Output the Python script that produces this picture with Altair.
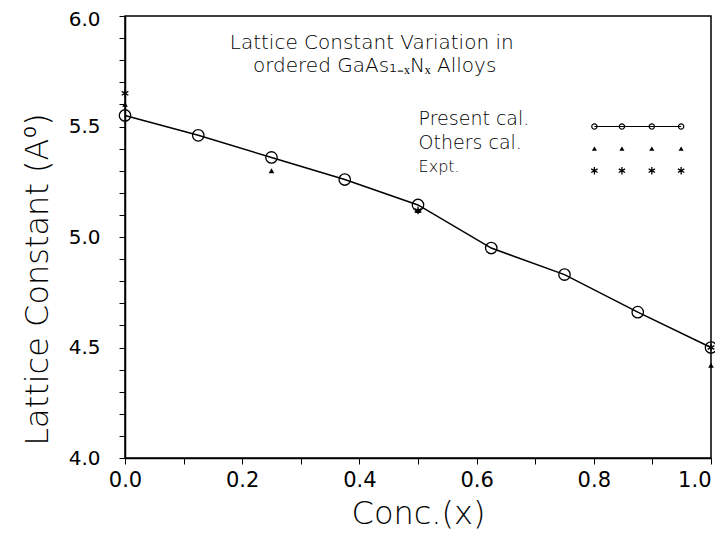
import altair as alt
import pandas as pd

# ---- data ----
conc = [0.0, 0.125, 0.25, 0.375, 0.5, 0.625, 0.75, 0.875, 1.0]
present = [5.55, 5.46, 5.36, 5.26, 5.145, 4.95, 4.83, 4.66, 4.50]

others_x = [0.0, 0.25, 0.5, 1.0]
others = [5.60, 5.30, 5.12, 4.42]

expt_x = [0.0, 0.5, 1.0]
expt = [5.65, 5.12, 4.50]

x_ticks = [0.0, 0.1, 0.2, 0.3, 0.4, 0.5, 0.6, 0.7, 0.8, 0.9, 1.0]
y_ticks = [4.0, 4.1, 4.2, 4.3, 4.4, 4.5, 4.6, 4.7, 4.8, 4.9, 5.0,
           5.1, 5.2, 5.3, 5.4, 5.5, 5.6, 5.7, 5.8, 5.9, 6.0]

title_lines = ["Lattice Constant Variation in", "ordered GaAs\u2081\u208b\u2093N\u2093 Alloys"]
title_x = [0.421, 0.426]
title_y = [5.879, 5.774]

legend_labels = ["Present cal.", "Others cal.", "Expt."]
legend_label_x = [0.501, 0.501, 0.501]
legend_label_y = [5.532, 5.425, 5.318]
legend_label_size = [19, 19, 16]
legend_sample_x = [0.801, 0.848, 0.899, 0.949]
legend_sample_y = [5.50, 5.40, 5.30]

FONT = "DejaVu Sans"
ASTERISK = "M0,-1L0,1M-0.866,-0.5L0.866,0.5M-0.866,0.5L0.866,-0.5"

xs = alt.Scale(domain=[0, 1], nice=False, zero=False)
ys = alt.Scale(domain=[4, 6], nice=False, zero=False)

x_axis = alt.Axis(
    values=x_ticks,
    labelExpr="abs(round(datum.value*10) % 2) == 0 ? format(datum.value, '.1f') : ''",
    labelAlign={"expr": "datum.value >= 0.99 ? 'right' : 'center'"},
    title="Conc.(x)", titleFontSize=32, titleFont=FONT, titleFontWeight=200,
    titleY=55, titleBaseline="middle",
    labelFontSize=21, labelFont=FONT, labelFontWeight="normal", labelPadding=5,
    tickSize=6, grid=False, domainColor="black", tickColor="black",
    labelColor="black", titleColor="black", domainWidth=1.5, labelFlush=False,
)
y_axis = alt.Axis(
    values=y_ticks,
    labelExpr="abs(round(datum.value*10) % 5) == 0 ? format(datum.value, '.1f') : ''",
    labelOffset={"expr": "datum.value >= 5.99 ? 3 : 0"},
    title="Lattice Constant (A\u2070)", titleFontSize=32, titleFont=FONT,
    titleFontWeight=200, titleX=-88, titleY=263, titleAlign="center",
    titleBaseline="middle", titleAngle=-90,
    labelFontSize=20, labelFont=FONT, labelFontWeight="normal", labelPadding=19,
    tickSize=6, grid=False, domainColor="black", tickColor="black",
    labelColor="black", titleColor="black", domainWidth=1.5, labelFlush=False,
)

df_present = pd.DataFrame({"x": conc, "y": present})
df_others = pd.DataFrame({"x": others_x, "y": others})
df_expt = pd.DataFrame({"x": expt_x, "y": expt})
df_title = pd.DataFrame({"x": title_x, "y": title_y, "t": title_lines})
df_leg_lab = pd.DataFrame({"x": legend_label_x, "y": legend_label_y,
                           "t": legend_labels, "s": legend_label_size})
df_leg_present = pd.DataFrame({"x": legend_sample_x, "y": [legend_sample_y[0]] * 4})
df_leg_others = pd.DataFrame({"x": legend_sample_x, "y": [legend_sample_y[1]] * 4})
df_leg_expt = pd.DataFrame({"x": legend_sample_x, "y": [legend_sample_y[2]] * 4})


def enc(ch):
    return ch.encode(
        x=alt.X("x:Q", scale=xs, axis=x_axis),
        y=alt.Y("y:Q", scale=ys, axis=y_axis),
    )


line = enc(alt.Chart(df_present).mark_line(color="black", strokeWidth=1.5))
circles = enc(alt.Chart(df_present).mark_point(shape="circle", size=130, filled=False,
                                               color="black", strokeWidth=1.3, opacity=1))
tri = enc(alt.Chart(df_others).mark_point(shape="triangle-up", size=32, filled=True,
                                          color="black", opacity=1))
stars = enc(alt.Chart(df_expt).mark_point(shape=ASTERISK, size=60, filled=False,
                                          color="black", strokeWidth=1.3, opacity=1))

titles = enc(alt.Chart(df_title).mark_text(font=FONT, fontSize=20, fontWeight=300,
                                           color="black", align="center",
                                           baseline="middle")).encode(text="t:N")
leg_text = enc(alt.Chart(df_leg_lab).mark_text(font=FONT, fontWeight=300, color="black",
                                               align="left", baseline="middle")).encode(
    text="t:N", size=alt.Size("s:Q", scale=None, legend=None))
leg_line = enc(alt.Chart(df_leg_present).mark_line(color="black", strokeWidth=1.2))
leg_circ = enc(alt.Chart(df_leg_present).mark_point(shape="circle", size=28, filled=False,
                                                    color="black", strokeWidth=1.2, opacity=1))
leg_tri = enc(alt.Chart(df_leg_others).mark_point(shape="triangle-up", size=26, filled=True,
                                                  color="black", opacity=1))
leg_star = enc(alt.Chart(df_leg_expt).mark_point(shape=ASTERISK, size=55, filled=False,
                                                 color="black", strokeWidth=1.3, opacity=1))

chart = alt.layer(
    line, circles, tri, stars, titles, leg_text, leg_line, leg_circ, leg_tri, leg_star
).properties(
    width=586, height=442,
    background="white",
    autosize=alt.AutoSizeParams(type="none"),
    padding={"left": 117, "top": 8, "right": 4, "bottom": 72},
).configure_view(
    stroke="black", strokeWidth=1.5
)

chart.save("out.html", embed_options={"renderer": "svg", "actions": False})
